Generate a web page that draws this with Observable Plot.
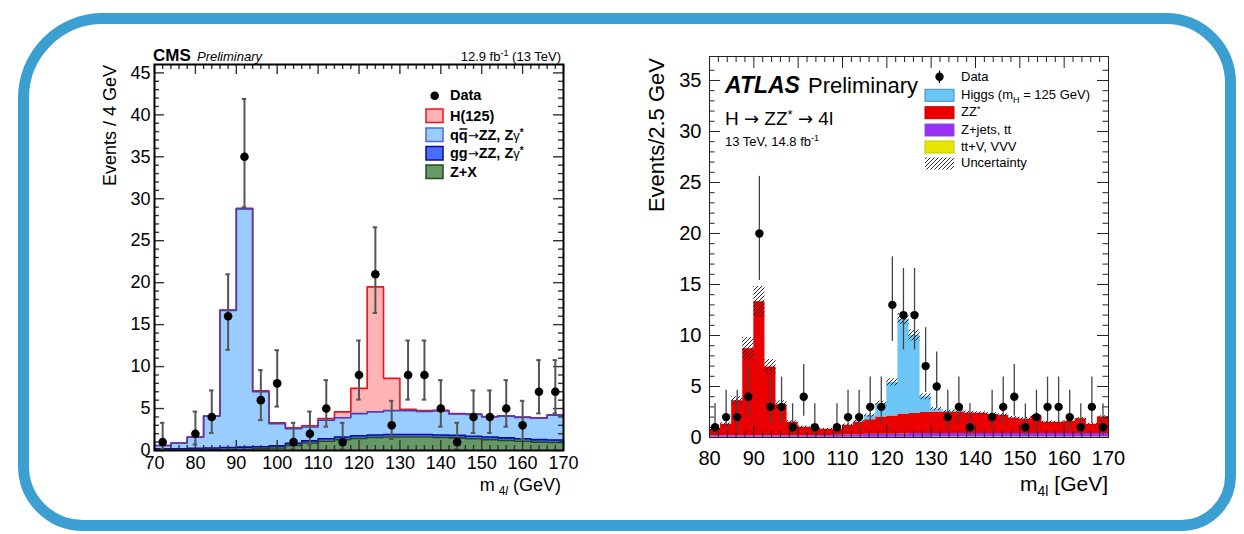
<!DOCTYPE html>
<html><head><meta charset="utf-8">
<script src="https://cdn.jsdelivr.net/npm/d3@7"></script>
<script src="https://cdn.jsdelivr.net/npm/@observablehq/plot@0.6"></script>
<style>
html,body{margin:0;padding:0;background:#fff;}
#wrap{position:relative;width:1244px;height:534px;overflow:hidden;background:#fff;font-family:"Liberation Sans",Arial,Helvetica,sans-serif;}
#border{position:absolute;left:18px;top:13px;width:1218px;height:518px;box-sizing:border-box;border:11px solid #3c9fd1;border-radius:85px 70px 55px 65px;}
#wrap svg{position:absolute;left:0;top:0;}
</style></head><body><div id="wrap"><div id="border"></div></div>
<script>
// ---------------- CMS data (4 GeV bins) ----------------
const cmsBinLow = [70,74,78,82,86,90,94,98,102,106,110,114,118,122,126,130,134,138,142,146,150,154,158,162,166];
const cmsBinWidth = 4;
const cmsZX = [0.05,0.05,0.05,0.08,0.10,0.12,0.20,0.30,0.60,0.90,1.10,1.30,1.45,1.55,1.60,1.60,1.60,1.55,1.50,1.40,1.30,1.20,1.10,1.00,0.95];
const cmsGG = [0.15,0.15,0.20,0.22,0.25,0.28,0.25,0.25,0.25,0.25,0.30,0.30,0.30,0.30,0.30,0.30,0.30,0.30,0.30,0.30,0.30,0.30,0.30,0.30,0.30];
const cmsQQ = [0.40,0.70,1.35,3.80,16.35,28.40,6.55,2.65,1.75,1.65,2.20,2.30,2.65,2.75,2.85,2.85,2.75,2.85,2.55,2.60,2.40,2.60,2.55,2.55,2.95];
const cmsH  = [0,0,0,0,0.05,0.05,0.10,0.10,0.10,0.15,0.20,0.70,3.00,14.90,3.85,0.15,0.10,0.10,0.05,0.05,0.05,0.05,0.05,0.05,0.05];
const cmsData = [1,0,2,4,16,35,6,8,1,2,5,1,9,21,3,9,9,5,1,4,4,5,3,7,7];
const cmsXLabels = [70,80,90,100,110,120,130,140,150,160,170];
const cmsYLabels = [0,5,10,15,20,25,30,35,40,45];

// ---------------- ATLAS data (2.5 GeV bins) ----------------
const atlasBinLow = [80,82.5,85,87.5,90,92.5,95,97.5,100,102.5,105,107.5,110,112.5,115,117.5,120,122.5,125,127.5,130,132.5,135,137.5,140,142.5,145,147.5,150,152.5,155,157.5,160,162.5,165,167.5];
const atlasBinWidth = 2.5;
const atlasTTV = [0.02,0.02,0.02,0.02,0.02,0.02,0.02,0.02,0.02,0.02,0.02,0.02,0.03,0.03,0.03,0.03,0.03,0.03,0.03,0.03,0.05,0.05,0.05,0.05,0.05,0.05,0.05,0.05,0.05,0.05,0.05,0.05,0.05,0.05,0.05,0.05];
const atlasZJ  = [0.15,0.15,0.15,0.15,0.15,0.15,0.15,0.15,0.15,0.15,0.18,0.20,0.22,0.25,0.28,0.30,0.30,0.32,0.35,0.35,0.35,0.35,0.35,0.35,0.35,0.35,0.35,0.35,0.35,0.35,0.33,0.33,0.33,0.33,0.33,0.33];
const atlasZZ  = [0.63,1.13,3.43,8.53,13.13,6.73,3.03,1.33,0.83,0.78,0.60,0.58,0.95,1.22,1.44,1.67,1.77,1.95,1.97,2.07,2.10,2.05,2.10,2.00,1.95,1.85,1.75,1.50,1.40,1.65,1.12,1.12,1.22,1.47,0.92,1.62];
const atlasHiggs = [0,0,0,0,0,0,0,0,0,0,0,0,0.02,0.10,0.40,1.30,3.30,9.30,7.65,1.55,0.30,0.10,0.10,0.05,0.05,0.05,0.05,0.05,0.05,0.05,0,0,0,0,0,0];
const atlasUnc = [0.10,0.15,0.40,1.10,1.50,0.75,0.40,0.15,0.10,0.10,0.08,0.08,0.10,0.12,0.15,0.25,0.35,0.55,0.55,0.30,0.15,0.12,0.12,0.12,0.12,0.12,0.12,0.12,0.12,0.12,0.10,0.10,0.10,0.12,0.10,0.12];
const atlasData = [1,2,2,4,20,3,3,1,4,1,0,1,2,2,3,3,13,12,12,7,5,2,3,1,0,2,3,4,1,2,3,3,2,1,3,1];
const atlasXLabels = [80,90,100,110,120,130,140,150,160,170];
const atlasYLabels = [0,5,10,15,20,25,30,35];

// Poisson (Garwood 68%) intervals used for the data error bars
const poissonCount = [1,2,3,4,5,6,7,8,9,12,13,16,20,21,35];
const poissonLow   = [0.17,0.71,1.37,2.09,2.84,3.62,4.42,5.23,6.06,8.58,9.43,12.0,15.4,16.4,29.0];
const poissonHigh  = [3.30,4.64,5.92,7.16,8.38,9.58,10.77,11.95,13.11,16.57,17.71,21.0,25.6,26.6,41.9];

// ---------------- helpers ----------------
function stepRows(lows, width, layers) {
  const rows = lows.map((x, i) => {
    let c = 0; const r = {x};
    layers.forEach((a, k) => { r["b" + k] = c; c += a[i]; r["t" + k] = c; });
    return r;
  });
  rows.push({...rows[rows.length - 1], x: lows[lows.length - 1] + width});
  return rows;
}
function points(lows, width, counts) {
  return lows.map((x, i) => ({x: x + width / 2, n: counts[i]})).filter(d => d.n > 0).map(d => {
    const j = poissonCount.indexOf(d.n);
    return {...d, lo: poissonLow[j], hi: poissonHigh[j]};
  });
}
function frameTicks(o) {
  const m = [];
  const st = {stroke: o.stroke, strokeWidth: o.sw};
  m.push(Plot.ruleX(o.xMajor, {x: d => d, insetTop: o.plotH - o.xMaj, ...st}));
  m.push(Plot.ruleX(o.xMajor, {x: d => d, insetBottom: o.plotH - o.xMaj, ...st}));
  m.push(Plot.ruleX(o.xMinor, {x: d => d, insetTop: o.plotH - o.xMin, ...st}));
  m.push(Plot.ruleX(o.xMinor, {x: d => d, insetBottom: o.plotH - o.xMin, ...st}));
  m.push(Plot.ruleY(o.yMajor, {y: d => d, insetRight: o.plotW - o.yMaj, ...st}));
  m.push(Plot.ruleY(o.yMajor, {y: d => d, insetLeft: o.plotW - o.yMaj, ...st}));
  m.push(Plot.ruleY(o.yMinor, {y: d => d, insetRight: o.plotW - o.yMin, ...st}));
  m.push(Plot.ruleY(o.yMinor, {y: d => d, insetLeft: o.plotW - o.yMin, ...st}));
  return m;
}
const FONT = "Liberation Sans, Arial, Helvetica, sans-serif";
const ARROW_FONT = "DejaVu Sans, sans-serif";
const wrap = document.getElementById("wrap");

const ov = d3.create("svg").attr("width", 1244).attr("height", 534)
  .attr("font-family", FONT).style("pointer-events", "none");
const pat = ov.append("defs").append("pattern").attr("id", "hatch")
  .attr("patternUnits", "userSpaceOnUse").attr("width", 4).attr("height", 4);
pat.append("path").attr("d", "M-1,1 l2,-2 M0,4 l4,-4 M3,5 l2,-2").attr("stroke", "#111").attr("stroke-width", 0.9);

// ---------------- CMS plot ----------------
{
  const L = 154, R = 563, T = 64, B = 450;
  const rows = stepRows(cmsBinLow, cmsBinWidth, [cmsZX, cmsGG, cmsQQ, cmsH]);
  const pts = points(cmsBinLow, cmsBinWidth, cmsData);
  const fills = ["#669966", "#4b6eff", "#99ccff", "#ffb3b3"];
  const lines = ["#1f4d1f", "#0a0aa0", "#4a3fb8", "#e8141e"];
  const marks = [];
  [0,1,2,3].forEach(k => marks.push(Plot.areaY(rows, {x: "x", y1: "b" + k, y2: "t" + k, curve: "step-after", fill: fills[k]})));
  marks.push(Plot.lineY(rows, {x: "x", y: "t3", curve: "step-after", stroke: lines[3], strokeWidth: 1.6}));
  [2,1,0].forEach(k => marks.push(Plot.lineY(rows, {x: "x", y: "t" + k, curve: "step-after", stroke: lines[k], strokeWidth: 1.6})));
  marks.push(...frameTicks({plotW: R - L, plotH: B - T,
    xMajor: cmsXLabels, xMinor: d3.range(72, 170, 2).filter(v => v % 10 !== 0),
    yMajor: cmsYLabels, yMinor: d3.range(1, 46, 1).filter(v => v % 5 !== 0),
    xMaj: 10, xMin: 5, yMaj: 10, yMin: 5, stroke: "#333", sw: 1.4}));
  marks.push(Plot.ruleX(pts, {x: "x", y1: "lo", y2: "hi", stroke: "#555", strokeWidth: 2}));
  marks.push(Plot.ruleY(pts, {y: "hi", x1: d => d.x - 0.55, x2: d => d.x + 0.55, stroke: "#555", strokeWidth: 2}));
  marks.push(Plot.ruleY(pts, {y: "lo", x1: d => d.x - 0.55, x2: d => d.x + 0.55, stroke: "#555", strokeWidth: 2}));
  marks.push(Plot.dot(pts, {x: "x", y: "n", r: 4.3, fill: "#000", stroke: "none"}));
  marks.push(Plot.frame({stroke: "#000", strokeWidth: 2}));
  marks.push(Plot.axisX({ticks: cmsXLabels, tickSize: 0, tickPadding: 6, fontSize: 18, label: null, tickFormat: d => String(d)}));
  marks.push(Plot.axisY({ticks: cmsYLabels, tickSize: 0, tickPadding: 4, fontSize: 18, label: null, tickFormat: d => String(d)}));
  const p = Plot.plot({width: 1244, height: 534, marginLeft: L, marginRight: 1244 - R, marginTop: T, marginBottom: 534 - B,
    x: {domain: [70, 170], label: null}, y: {domain: [0, 46], label: null},
    style: {background: "transparent", fontFamily: FONT, fontSize: "18px", color: "#000"}, marks});
  wrap.appendChild(p);
}

// ---------------- ATLAS plot ----------------
{
  const L = 709, R = 1108, T = 56, B = 437;
  const rows = stepRows(atlasBinLow, atlasBinWidth, [atlasTTV, atlasZJ, atlasZZ, atlasHiggs]);
  const last = atlasBinLow.length - 1;
  const unc = atlasBinLow.map((x, i) => ({x, u: atlasUnc[i]}));
  unc.push({x: atlasBinLow[last] + atlasBinWidth, u: atlasUnc[last]});
  rows.forEach((r, i) => { r.ulo = r.t3 - unc[i].u; r.uhi = r.t3 + unc[i].u; });
  const pts = points(atlasBinLow, atlasBinWidth, atlasData);
  const fills = ["#e6e600", "#9b30f5", "#ea0000", "#6cc6f5"];
  const marks = [];
  [0,1,2,3].forEach(k => marks.push(Plot.areaY(rows, {x: "x", y1: "b" + k, y2: "t" + k, curve: "step-after", fill: fills[k]})));
  marks.push(Plot.areaY(rows, {x: "x", y1: "ulo", y2: "uhi", curve: "step-after", fill: "url(#hatch)"}));
  marks.push(...frameTicks({plotW: R - L, plotH: B - T,
    xMajor: atlasXLabels, xMinor: d3.range(82, 170, 2).filter(v => v % 10 !== 0),
    yMajor: atlasYLabels, yMinor: d3.range(1, 37, 1).filter(v => v % 5 !== 0),
    xMaj: 12, xMin: 6, yMaj: 11, yMin: 5.5, stroke: "#222", sw: 1}));
  marks.push(Plot.ruleX(pts, {x: "x", y1: "lo", y2: "hi", stroke: "#444", strokeWidth: 1.3}));
  marks.push(Plot.dot(pts, {x: "x", y: "n", r: 4.2, fill: "#000", stroke: "none"}));
  marks.push(Plot.frame({stroke: "#222", strokeWidth: 1}));
  marks.push(Plot.axisX({ticks: atlasXLabels, tickSize: 0, tickPadding: 13, fontSize: 20, label: null, tickFormat: d => String(d)}));
  marks.push(Plot.axisY({ticks: atlasYLabels, tickSize: 0, tickPadding: 8, fontSize: 20, label: null, tickFormat: d => String(d)}));
  const p = Plot.plot({width: 1244, height: 534, marginLeft: L, marginRight: 1244 - R, marginTop: T, marginBottom: 534 - B,
    x: {domain: [80, 170], label: null}, y: {domain: [0, 37.35], label: null},
    style: {background: "transparent", fontFamily: FONT, fontSize: "20px", color: "#000"}, marks});
  wrap.appendChild(p);
}

// ---------------- annotations ----------------
wrap.appendChild(ov.node());
function rich(x, y, parts, o = {}) {
  const t = ov.append("text").attr("x", x).attr("y", y).attr("font-size", o.size || 14)
    .attr("font-weight", o.weight || "normal").attr("font-style", o.style || "normal")
    .attr("text-anchor", o.anchor || "start").attr("fill", "#000");
  if (o.rotate) t.attr("transform", `rotate(${o.rotate},${x},${y})`);
  let shift = 0;
  for (const p0 of (typeof parts === "string" ? [parts] : parts)) {
    const p = typeof p0 === "string" ? {t: p0} : p0;
    const s = p.shift || 0;
    const ts = t.append("tspan").text(p.t);
    if (s !== shift) { ts.attr("dy", s - shift); shift = s; }
    if (p.size) ts.attr("font-size", p.size);
    if (p.style) ts.attr("font-style", p.style);
    if (p.weight) ts.attr("font-weight", p.weight);
    if (p.family) ts.attr("font-family", p.family);
    if (p.dx) ts.attr("dx", p.dx);
  }
  return t;
}
const arrow = (size) => ({t: "\u2192", family: ARROW_FONT, size, weight: "normal"});
// CMS texts
rich(153, 60.5, "CMS", {size: 17, weight: "bold"});
rich(197, 60.5, "Preliminary", {size: 13, style: "italic"});
rich(561, 60.5, ["12.9 fb", {t: "-1", size: 9, shift: -5}, {t: " (13 TeV)", shift: 0}], {size: 13, anchor: "end"});
rich(116, 65, "Events / 4 GeV", {size: 18, anchor: "end", rotate: -90});
rich(561, 491, ["m", {t: "4", size: 12, shift: 4, dx: 4}, {t: "l", size: 12, style: "italic", shift: 4}, {t: " (GeV)", shift: 0}], {size: 18, anchor: "end"});
// CMS legend
ov.append("circle").attr("cx", 434.7).attr("cy", 95.8).attr("r", 4.3).attr("fill", "#000");
rich(450, 100, "Data", {size: 14.5, weight: "bold"});
const cmsLeg = [
  {y: 109, fill: "#ffb3b3", stroke: "#e8141e", label: ["H(125)"]},
  {y: 128, fill: "#99ccff", stroke: "#4a6ad8", label: ["qq", arrow(13), "ZZ, Z", {t: "\u03b3", weight: "normal", size: 13}, {t: "*", size: 10, shift: -4}], bar: true},
  {y: 146.5, fill: "#4b6eff", stroke: "#0a0aa0", label: ["gg", arrow(13), "ZZ, Z", {t: "\u03b3", weight: "normal", size: 13}, {t: "*", size: 10, shift: -4}]},
  {y: 165, fill: "#669966", stroke: "#1f4d1f", label: ["Z+X"]}
];
cmsLeg.forEach(e => {
  ov.append("rect").attr("x", 426).attr("y", e.y).attr("width", 17).attr("height", 13.5)
    .attr("fill", e.fill).attr("stroke", e.stroke).attr("stroke-width", 1.5);
  const t = rich(450, e.y + 11.5, e.label, {size: 14.5, weight: "bold"});
  if (e.bar) {
    // bar over the second q (anti-quark)
    const n = t.node();
    const a = n.getStartPositionOfChar(1).x, b = n.getEndPositionOfChar(1).x;
    const yb = e.y + 11.5 - 10.5;
    ov.append("line").attr("x1", a + 0.5).attr("x2", b - 0.5).attr("y1", yb).attr("y2", yb)
      .attr("stroke", "#000").attr("stroke-width", 1.4);
  }
});
// ATLAS texts
rich(725, 93, "ATLAS", {size: 23, weight: "bold", style: "italic"});
rich(808, 93, "Preliminary", {size: 22});
rich(725, 124.5, ["H ", arrow(18), " ZZ", {t: "*", size: 13, shift: -6}, {t: " ", shift: 0}, arrow(18), " 4l"], {size: 19});
rich(725, 146, ["13 TeV, 14.8 fb", {t: "-1", size: 9, shift: -5}], {size: 13});
rich(664, 58, "Events/2.5 GeV", {size: 22, anchor: "end", rotate: -90});
rich(1108, 491, ["m", {t: "4l", size: 14, shift: 5}, {t: " [GeV]", shift: 0}], {size: 21, anchor: "end"});
// ATLAS legend
ov.append("line").attr("x1", 939.5).attr("x2", 939.5).attr("y1", 70.5).attr("y2", 83).attr("stroke", "#000").attr("stroke-width", 1.2);
ov.append("circle").attr("cx", 939.5).attr("cy", 76.8).attr("r", 4.2).attr("fill", "#000");
rich(961, 80.7, "Data", {size: 13});
const atlasLeg = [
  {y: 89.3, fill: "#6cc6f5", stroke: "#3d8fc2", label: ["Higgs (m", {t: "H", size: 9, shift: 4}, {t: " = 125 GeV)", shift: 0}]},
  {y: 106.7, fill: "#ea0000", stroke: "#c40000", label: ["ZZ", {t: "*", size: 9, shift: -4}]},
  {y: 124, fill: "#9b30f5", stroke: "#7e55e0", label: ["Z+jets, tt"]},
  {y: 141, fill: "#e6e600", stroke: "#c9c900", label: ["tt+V, VVV"]},
  {y: 157.5, fill: "url(#hatch)", stroke: "none", label: ["Uncertainty"]}
];
atlasLeg.forEach(e => {
  ov.append("rect").attr("x", 925).attr("y", e.y).attr("width", 29).attr("height", 12)
    .attr("fill", e.fill).attr("stroke", e.stroke).attr("stroke-width", 1);
  rich(961, e.y + 9.6, e.label, {size: 13});
});
</script></body></html>
